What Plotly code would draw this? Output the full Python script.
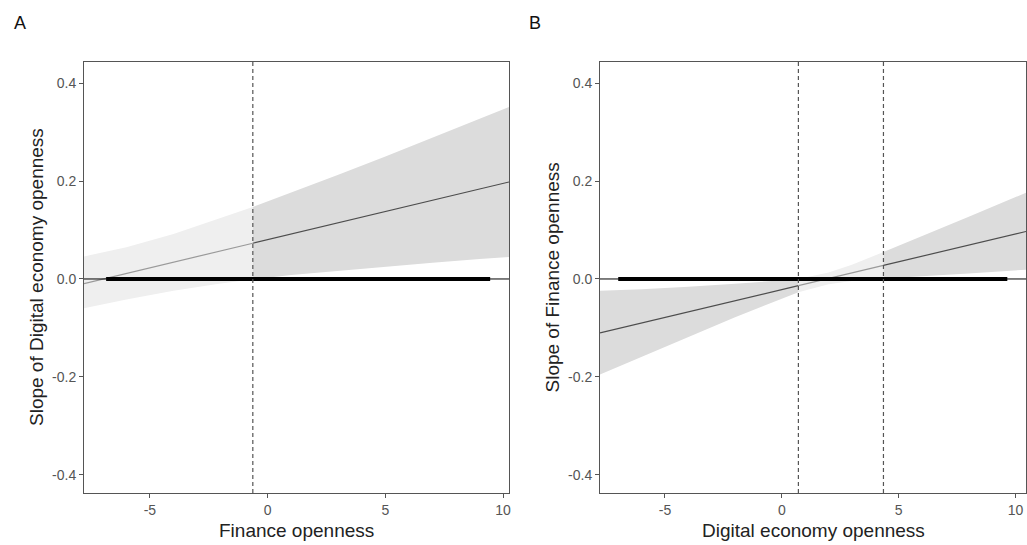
import plotly.graph_objects as go

# ---------------- data ----------------
# Panel A: slope of Digital economy openness vs Finance openness
A_x = [-7.8, -6, -4, -2, -0.63, 1, 3, 5, 7, 9, 10.25]
A_slope = [-0.0095, 0.0112, 0.0342, 0.0572, 0.073, 0.0917, 0.1147, 0.1377, 0.1607, 0.1837, 0.198]
A_upper = [0.046, 0.065, 0.092, 0.124, 0.147, 0.176, 0.213, 0.250, 0.288, 0.327, 0.351]
A_lower = [-0.060, -0.042, -0.024, -0.009, -0.001, 0.008, 0.017, 0.025, 0.033, 0.041, 0.045]
A_cuts = [-0.63]
A_sig = [False, True]
A_range = [-6.86, 9.45]

# Panel B: slope of Finance openness vs Digital economy openness
B_x = [-7.78, -6, -4, -2, 0.71, 2, 3, 4.35, 6, 8, 10.45]
B_slope = [-0.110, -0.0898, -0.067, -0.0444, -0.0136, 0.001, 0.0124, 0.0277, 0.0464, 0.0691, 0.097]
B_upper = [-0.024, -0.021, -0.016, -0.010, 0.000, 0.013, 0.029, 0.055, 0.087, 0.127, 0.176]
B_lower = [-0.195, -0.159, -0.118, -0.078, -0.027, -0.011, -0.004, 0.001, 0.006, 0.011, 0.019]
B_cuts = [0.71, 4.35]
B_sig = [True, False, True]
B_range = [-7.0, 9.65]

x_ticks = [-5, 0, 5, 10]
x_ticktext = ["-5", "0", "5", "10"]
y_ticks = [0.4, 0.2, 0.0, -0.2, -0.4]
y_ticktext = ["0.4", "0.2", "0.0", "-0.2", "-0.4"]

panel_labels = ["A", "B"]
x_titles = ["Finance openness", "Digital economy openness"]
y_titles = ["Slope of Digital economy openness", "Slope of Finance openness"]

# ---------------- styling ----------------
W, H = 1027, 545
FONT = "Liberation Sans, Arial, sans-serif"
BAND_SIG = "#dcdcdc"
BAND_NS = "#efefef"
LINE_SIG = "#4d4d4d"
LINE_NS = "#9a9a9a"
AXIS_COL = "#555555"

plot_px = [(84, 509), (600, 1026)]
top_px, bot_px = 62, 493
x_ranges = [[-7.8, 10.25], [-7.78, 10.45]]
y_range = [-0.437, 0.443]

fig = go.Figure()
panels = [
    (A_x, A_slope, A_upper, A_lower, A_cuts, A_sig, A_range),
    (B_x, B_slope, B_upper, B_lower, B_cuts, B_sig, B_range),
]

for p, (xs, ys, up, lo, cuts, sig, rng) in enumerate(panels):
    xa = "x" if p == 0 else "x2"
    ya = "y" if p == 0 else "y2"
    bounds = [0] + [xs.index(c) for c in cuts] + [len(xs) - 1]
    for k in range(len(bounds) - 1):
        i0, i1 = bounds[k], bounds[k + 1]
        sx = xs[i0:i1 + 1]
        su = up[i0:i1 + 1]
        sl = lo[i0:i1 + 1]
        fig.add_trace(go.Scatter(
            x=sx + sx[::-1], y=su + sl[::-1], fill="toself",
            fillcolor=BAND_SIG if sig[k] else BAND_NS,
            line=dict(width=0), mode="lines", hoverinfo="skip",
            showlegend=False, xaxis=xa, yaxis=ya))
    for k in range(len(bounds) - 1):
        i0, i1 = bounds[k], bounds[k + 1]
        fig.add_trace(go.Scatter(
            x=xs[i0:i1 + 1], y=ys[i0:i1 + 1], mode="lines",
            line=dict(color=LINE_SIG if sig[k] else LINE_NS, width=1.2),
            showlegend=False, xaxis=xa, yaxis=ya))
    fig.add_trace(go.Scatter(
        x=rng, y=[0, 0], mode="lines", line=dict(color="black", width=4),
        showlegend=False, xaxis=xa, yaxis=ya))
    fig.add_shape(type="line", xref=f"{xa} domain", yref=ya, x0=0, x1=1, y0=0, y1=0,
                  line=dict(color="black", width=1), layer="above")
    for c in cuts:
        fig.add_shape(type="line", xref=xa, yref=f"{ya} domain", x0=c, x1=c, y0=0, y1=1,
                      line=dict(color="#555555", width=1.2, dash="4px,3px"), layer="above")

axis_common = dict(showline=True, mirror=True, linecolor=AXIS_COL, linewidth=1,
                   ticks="outside", ticklen=4, tickcolor=AXIS_COL, tickwidth=1,
                   showgrid=False, zeroline=False, automargin=False,
                   tickfont=dict(family=FONT, size=14, color="#555555"))

ydom = [1 - bot_px / H, 1 - top_px / H]
fig.update_layout(
    width=W, height=H, margin=dict(l=0, r=0, t=0, b=0, autoexpand=False),
    paper_bgcolor="white", plot_bgcolor="white",
    xaxis=dict(domain=[plot_px[0][0] / W, plot_px[0][1] / W], range=x_ranges[0],
               tickvals=x_ticks, ticktext=x_ticktext, anchor="y", **axis_common),
    yaxis=dict(domain=ydom, range=y_range, tickvals=y_ticks, ticktext=y_ticktext,
               anchor="x", **axis_common),
    xaxis2=dict(domain=[plot_px[1][0] / W, plot_px[1][1] / W], range=x_ranges[1],
                tickvals=x_ticks, ticktext=x_ticktext, anchor="y2", **axis_common),
    yaxis2=dict(domain=ydom, range=y_range, tickvals=y_ticks, ticktext=y_ticktext,
                anchor="x2", **axis_common),
    showlegend=False,
)

label_x = [20, 535]
ytitle_x = [36.5, 552]
for p in range(2):
    cx = (plot_px[p][0] + plot_px[p][1]) / 2
    fig.add_annotation(x=label_x[p] / W, y=1 - 23 / H, xref="paper", yref="paper",
                       text=panel_labels[p], showarrow=False,
                       font=dict(family=FONT, size=18, color="#111111"),
                       xanchor="center", yanchor="middle")
    fig.add_annotation(x=cx / W, y=1 - 530 / H, xref="paper", yref="paper",
                       text=x_titles[p], showarrow=False,
                       font=dict(family=FONT, size=19, color="#222222"),
                       xanchor="center", yanchor="middle")
    fig.add_annotation(x=ytitle_x[p] / W, y=1 - ((top_px + bot_px) / 2) / H,
                       xref="paper", yref="paper", text=y_titles[p], showarrow=False,
                       textangle=-90,
                       font=dict(family=FONT, size=19, color="#222222"),
                       xanchor="center", yanchor="middle")

fig.write_html(
    "out.html",
    config={"displayModeBar": False},
    post_script="document.body.style.margin='0';document.body.style.overflow='hidden';",
)
